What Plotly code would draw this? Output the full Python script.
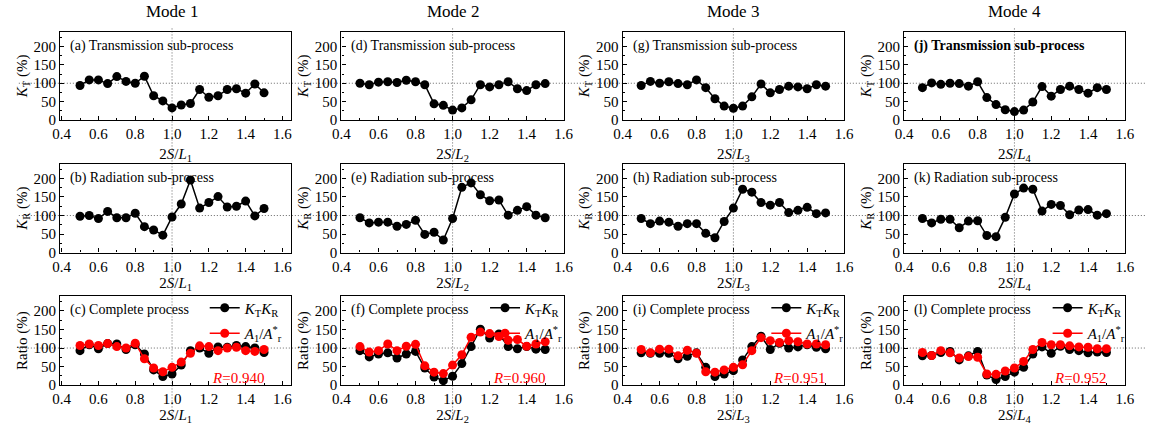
import plotly.graph_objects as go

# Normalised spacing 2S/L for every sample
x_ratio = [0.50, 0.55, 0.60, 0.65, 0.70, 0.75, 0.80, 0.85, 0.90, 0.95, 1.00,
           1.05, 1.10, 1.15, 1.20, 1.25, 1.30, 1.35, 1.40, 1.45, 1.50]

# Transmission sub-process K_T (%)
kt_mode1 = [94, 109, 109, 99, 118, 105, 100, 119, 66, 52, 33, 41, 45, 83, 62, 66, 83, 85, 73, 98, 74]
kt_mode2 = [100, 96, 103, 104, 102, 108, 104, 96, 44, 40, 27, 33, 55, 96, 90, 96, 104, 85, 80, 96, 99]
kt_mode3 = [94, 105, 100, 104, 99, 96, 109, 88, 58, 38, 32, 38, 63, 98, 74, 83, 92, 90, 85, 96, 92]
kt_mode4 = [88, 101, 97, 100, 99, 92, 104, 61, 42, 28, 23, 27, 49, 91, 65, 83, 92, 83, 73, 88, 83]

# Radiation sub-process K_R (%)
kr_mode1 = [98, 100, 92, 111, 94, 94, 106, 70, 61, 47, 96, 131, 196, 120, 135, 151, 123, 125, 139, 99, 119]
kr_mode2 = [94, 80, 82, 82, 71, 76, 87, 49, 55, 34, 92, 176, 188, 156, 140, 142, 101, 114, 124, 101, 94]
kr_mode3 = [92, 78, 85, 82, 71, 78, 78, 52, 40, 84, 120, 171, 163, 135, 128, 135, 108, 114, 122, 105, 107]
kr_mode4 = [92, 80, 90, 90, 67, 85, 86, 46, 43, 95, 158, 174, 171, 112, 130, 127, 102, 115, 116, 101, 105]

# Complete process: product K_T K_R (%)
ktkr_mode1 = [93, 109, 98, 112, 111, 96, 109, 84, 41, 23, 30, 54, 93, 100, 86, 103, 102, 107, 104, 100, 88]
ktkr_mode2 = [93, 76, 84, 87, 73, 84, 91, 46, 22, 12, 24, 58, 104, 151, 127, 138, 104, 98, 104, 97, 96]
ktkr_mode3 = [87, 86, 86, 86, 71, 78, 87, 48, 23, 30, 39, 68, 104, 132, 96, 113, 100, 103, 109, 102, 98]
ktkr_mode4 = [79, 80, 88, 91, 68, 79, 91, 27, 15, 23, 35, 48, 84, 103, 86, 105, 96, 93, 87, 89, 88]

# Complete process: amplitude ratio A_1/A*_r (%)
ampl_mode1 = [107, 111, 107, 112, 104, 100, 113, 71, 46, 36, 48, 62, 86, 106, 104, 93, 100, 102, 93, 91, 96]
ampl_mode2 = [104, 89, 93, 111, 93, 105, 110, 52, 35, 31, 54, 82, 129, 143, 139, 131, 121, 123, 105, 111, 117]
ampl_mode3 = [96, 87, 97, 97, 79, 94, 86, 36, 35, 41, 48, 55, 93, 128, 120, 115, 120, 117, 111, 111, 109]
ampl_mode4 = [88, 80, 93, 87, 73, 77, 75, 30, 29, 38, 46, 64, 96, 115, 109, 109, 106, 103, 102, 98, 98]

r_values = ["0.940", "0.960", "0.951", "0.952"]
mode_titles = ["Mode 1", "Mode 2", "Mode 3", "Mode 4"]
panel_letters = [["a", "b", "c"], ["d", "e", "f"], ["g", "h", "i"], ["j", "k", "l"]]
row_captions = ["Transmission sub-process", "Radiation sub-process", "Complete process"]
y_titles = ["<i>K</i><sub>T</sub> (%)", "<i>K</i><sub>R</sub> (%)", "Ratio (%)"]
x_ticks = [0.4, 0.6, 0.8, 1.0, 1.2, 1.4, 1.6]
x_ticktext = ["0.4", "0.6", "0.8", "1.0", "1.2", "1.4", "1.6"]
y_ticks = [0, 50, 100, 150, 200]

kt_all = [kt_mode1, kt_mode2, kt_mode3, kt_mode4]
kr_all = [kr_mode1, kr_mode2, kr_mode3, kr_mode4]
ktkr_all = [ktkr_mode1, ktkr_mode2, ktkr_mode3, ktkr_mode4]
ampl_all = [ampl_mode1, ampl_mode2, ampl_mode3, ampl_mode4]

FONT = "Liberation Serif"
W, H = 1155, 436
RED = "#ff0000"
REF_LINE = dict(color="#666666", width=1, dash="1px,2px")

# pixel boxes of the panels
col_px = [(52, 287), (338, 564), (624, 849), (910, 1134.5)]
row_px = [(32.3, 122.3), (166.7, 257.3), (301.7, 392.3)]
x_ranges = [[0.392, 1.648], [0.4, 1.6], [0.4, 1.6], [0.4, 1.6]]
x_standoff = [7, 1, 1]
legend_left_px = [199, 484, 770, 1056]

fig = go.Figure()
layout = dict(width=W, height=H, autosize=False,
              margin=dict(l=0, r=0, t=0, b=0),
              paper_bgcolor="white", plot_bgcolor="white",
              font=dict(family=FONT, size=15, color="black"),
              showlegend=True)
annotations = []
shapes = []


def ax_names(k):
    return ("x" if k == 1 else f"x{k}", "y" if k == 1 else f"y{k}")


line_style = dict(color="black", width=1.5)
marker_style = dict(color="black", size=9, symbol="circle")

for c in range(4):
    for r in range(3):
        k = r * 4 + c + 1
        xa, ya = ax_names(k)
        xkey = "xaxis" if k == 1 else f"xaxis{k}"
        ykey = "yaxis" if k == 1 else f"yaxis{k}"
        x0, x1 = col_px[c]
        y0, y1 = row_px[r]
        layout[xkey] = dict(
            domain=[x0 / W, x1 / W], anchor=ya, range=x_ranges[c],
            tickvals=x_ticks, ticktext=x_ticktext,
            showline=True, linecolor="black", linewidth=1.3, mirror=True,
            ticks="inside", ticklen=4, tickwidth=1.2, tickcolor="black",
            minor=dict(ticks="inside", ticklen=2, tick0=0.4, dtick=0.1, tickcolor="black"),
            showgrid=False, zeroline=False,
            tickfont=dict(family=FONT, size=15, color="black"),
            title=dict(text=f"2<i>S</i>/<i>L</i><sub>{c + 1}</sub>",
                       font=dict(family=FONT, size=15, color="black"),
                       standoff=x_standoff[r]),
        )
        layout[ykey] = dict(
            domain=[1 - y1 / H, 1 - y0 / H], anchor=xa, range=[0, 240],
            tickvals=y_ticks,
            showline=True, linecolor="black", linewidth=1.3, mirror=True,
            ticks="inside", ticklen=4, tickwidth=1.2, tickcolor="black",
            minor=dict(ticks="inside", ticklen=2, tick0=0, dtick=25, tickcolor="black"),
            showgrid=False, zeroline=False,
            tickfont=dict(family=FONT, size=15, color="black"),
            title=dict(text=y_titles[r], font=dict(family=FONT, size=15, color="black"),
                       standoff=2),
        )

        if r == 0:
            fig.add_trace(go.Scatter(x=x_ratio, y=kt_all[c], mode="lines+markers",
                                     line=line_style, marker=marker_style,
                                     xaxis=xa, yaxis=ya, showlegend=False))
        elif r == 1:
            fig.add_trace(go.Scatter(x=x_ratio, y=kr_all[c], mode="lines+markers",
                                     line=line_style, marker=marker_style,
                                     xaxis=xa, yaxis=ya, showlegend=False))
        else:
            lg = "legend" if c == 0 else f"legend{c + 1}"
            fig.add_trace(go.Scatter(x=x_ratio, y=ktkr_all[c], mode="lines+markers",
                                     name="<i>K</i><sub>T</sub><i>K</i><sub>R</sub>",
                                     legendgroup=f"prod{c}",
                                     line=line_style, marker=marker_style,
                                     xaxis=xa, yaxis=ya, legend=lg))
            fig.add_trace(go.Scatter(x=x_ratio, y=ampl_all[c], mode="lines+markers",
                                     name="<i>A</i><sub>1</sub>/<i>A</i><sup>*</sup><sub>r</sub>&nbsp;&nbsp;",
                                     legendgroup=f"ampl{c}",
                                     line=dict(color=RED, width=1.5),
                                     marker=dict(color=RED, size=9, symbol="circle"),
                                     xaxis=xa, yaxis=ya, legend=lg))
            layout[lg] = dict(
                x=legend_left_px[c] / W, y=1 - 297 / H, xanchor="left", yanchor="top",
                xref="paper", yref="paper", bgcolor="rgba(0,0,0,0)",
                borderwidth=0, font=dict(family=FONT, size=15, color="black"),
                tracegroupgap=3, entrywidth=70,
            )
            annotations.append(dict(
                text=f"<i>R</i>={r_values[c]}", x=1.51, y=18, xref=xa, yref=ya,
                xanchor="right", yanchor="middle", showarrow=False,
                font=dict(family=FONT, size=15, color=RED)))

        caption = f"({panel_letters[c][r]}) {row_captions[r]}"
        if c == 3 and r == 0:
            caption = f"<b>{caption}</b>"
        annotations.append(dict(
            text=caption, x=0, y=1, xref=f"{xa} domain", yref=f"{ya} domain",
            xanchor="left", yanchor="middle", xshift=8, yshift=-14, showarrow=False,
            font=dict(family=FONT, size=14, color="black")))

    # column heading and vertical reference line at 2S/L = 1
    xa_top, _ = ax_names(c + 1)
    annotations.append(dict(
        text=mode_titles[c], x=1.0, y=1 - 12 / H, xref=xa_top, yref="paper",
        xanchor="center", yanchor="middle", showarrow=False,
        font=dict(family=FONT, size=17, color="black")))
    shapes.append(dict(type="line", xref=xa_top, yref="paper", x0=1.0, x1=1.0,
                       y0=0.02, y1=1 - 28 / H, layer="below", line=REF_LINE))

# horizontal reference line at 100 % across each row
for r in range(3):
    _, ya_row = ax_names(r * 4 + 1)
    shapes.append(dict(type="line", xref="paper", yref=ya_row, x0=10 / W, x1=1.0,
                       y0=100, y1=100, layer="below", line=REF_LINE))

layout["annotations"] = annotations
layout["shapes"] = shapes
fig.update_layout(**layout)
fig.write_html("out.html")
